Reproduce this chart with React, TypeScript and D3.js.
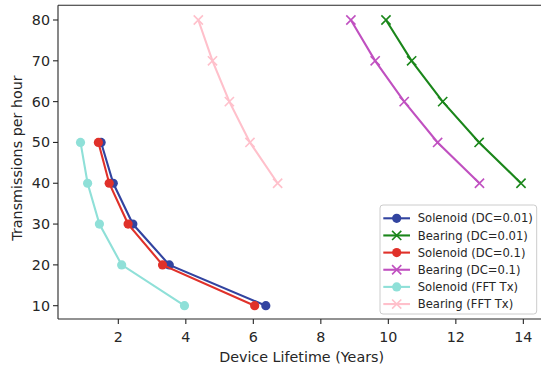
import * as d3 from "d3";
import React from "react";

// transmissions per hour (y) for each series
const solenoidRates = [50, 40, 30, 20, 10];
const bearingRates = [80, 70, 60, 50, 40];

// device lifetime in years (x)
const solenoidDc001 = [1.49, 1.85, 2.43, 3.51, 6.37];
const bearingDc001 = [9.93, 10.69, 11.61, 12.69, 13.93];
const solenoidDc01 = [1.41, 1.73, 2.29, 3.31, 6.04];
const bearingDc01 = [8.89, 9.61, 10.47, 11.46, 12.7];
const solenoidFft = [0.88, 1.09, 1.44, 2.1, 3.96];
const bearingFft = [4.37, 4.79, 5.29, 5.9, 6.72];

const xTicks = [2, 4, 6, 8, 10, 12, 14];
const yTicks = [10, 20, 30, 40, 50, 60, 70, 80];

type Series = { label: string; xs: number[]; ys: number[]; color: string; marker: "o" | "x" };

const series: Series[] = [
  { label: "Solenoid (DC=0.01)", xs: solenoidDc001, ys: solenoidRates, color: "#3244a0", marker: "o" },
  { label: "Bearing (DC=0.01)", xs: bearingDc001, ys: bearingRates, color: "#1a861a", marker: "x" },
  { label: "Solenoid (DC=0.1)", xs: solenoidDc01, ys: solenoidRates, color: "#e0312a", marker: "o" },
  { label: "Bearing (DC=0.1)", xs: bearingDc01, ys: bearingRates, color: "#c050c0", marker: "x" },
  { label: "Solenoid (FFT Tx)", xs: solenoidFft, ys: solenoidRates, color: "#8fe0d8", marker: "o" },
  { label: "Bearing (FFT Tx)", xs: bearingFft, ys: bearingRates, color: "#ffc0cb", marker: "x" },
];

const W = 541;
const H = 367;
const left = 58;
const right = 543.6;
const top = 5.3;
const bottom = 319;
const ink = "#262626";
const font = "DejaVu Sans, sans-serif";

const Marker: React.FC<{ kind: "o" | "x"; x: number; y: number; color: string }> = ({ kind, x, y, color }) => {
  if (kind === "o") return <circle cx={x} cy={y} r={4.6} fill={color} />;
  const s = 4.6;
  return (
    <path
      d={`M${x - s},${y - s}L${x + s},${y + s}M${x - s},${y + s}L${x + s},${y - s}`}
      stroke={color}
      strokeWidth={1.6}
      fill="none"
    />
  );
};

const App: React.FC = () => {
  const x = d3.scaleLinear().domain([0.213, 14.6]).range([left, right]);
  const y = d3.scaleLinear().domain([6.74, 83.6]).range([bottom, top]);
  const line = d3
    .line<[number, number]>()
    .x((d) => x(d[0]))
    .y((d) => y(d[1]));

  const legX = 380;
  const legY = 205;
  const rowH = 17.15;

  return (
    <svg width={W} height={H} style={{ position: "absolute", left: 0, top: 0 }} fontFamily={font}>
      <rect width={W} height={H} fill="white" />

      {/* series */}
      {series.map((s) => {
        const pts = s.xs.map((v, i) => [v, s.ys[i]] as [number, number]);
        return (
          <g key={s.label}>
            <path d={line(pts)!} fill="none" stroke={s.color} strokeWidth={2.1} />
            {pts.map((p, i) => (
              <Marker key={i} kind={s.marker} x={x(p[0])} y={y(p[1])} color={s.color} />
            ))}
          </g>
        );
      })}

      {/* spines */}
      <line x1={left} x2={left} y1={top} y2={bottom} stroke={ink} strokeWidth={1.1} />
      <line x1={left} x2={right} y1={bottom} y2={bottom} stroke={ink} strokeWidth={1.1} />
      <line x1={left} x2={right} y1={top} y2={top} stroke={ink} strokeWidth={1.1} />
      <line x1={right} x2={right} y1={top} y2={bottom} stroke={ink} strokeWidth={1.1} />

      {/* x axis */}
      {xTicks.map((t) => (
        <g key={t} transform={`translate(${x(t)},${bottom})`}>
          <line y2={5} stroke={ink} strokeWidth={1.1} />
          <text y={22.5} textAnchor="middle" fontSize={14.3} fill={ink}>
            {t}
          </text>
        </g>
      ))}
      <text x={301.6} y={361.5} textAnchor="middle" fontSize={14.3} fill={ink}>
        Device Lifetime (Years)
      </text>

      {/* y axis */}
      {yTicks.map((t) => (
        <g key={t} transform={`translate(${left},${y(t)})`}>
          <line x2={-5} stroke={ink} strokeWidth={1.1} />
          <text x={-8} dy="0.35em" textAnchor="end" fontSize={14.3} fill={ink}>
            {t}
          </text>
        </g>
      ))}
      <text transform={`translate(21.5,158) rotate(-90)`} textAnchor="middle" fontSize={14.3} fill={ink}>
        Transmissions per hour
      </text>

      {/* legend */}
      <rect x={legX} y={legY} width={156.7} height={109} rx={3} fill="white" fillOpacity={0.8} stroke="#cccccc" />
      {series.map((s, i) => {
        const cy = legY + 13.3 + i * rowH;
        return (
          <g key={s.label}>
            <line x1={383.3} x2={410} y1={cy} y2={cy} stroke={s.color} strokeWidth={2.1} />
            <Marker kind={s.marker} x={396.7} y={cy} color={s.color} />
            <text x={417.7} y={cy} dy="0.35em" fontSize={11.6} fill={ink}>
              {s.label}
            </text>
          </g>
        );
      })}
    </svg>
  );
};

export default App;
